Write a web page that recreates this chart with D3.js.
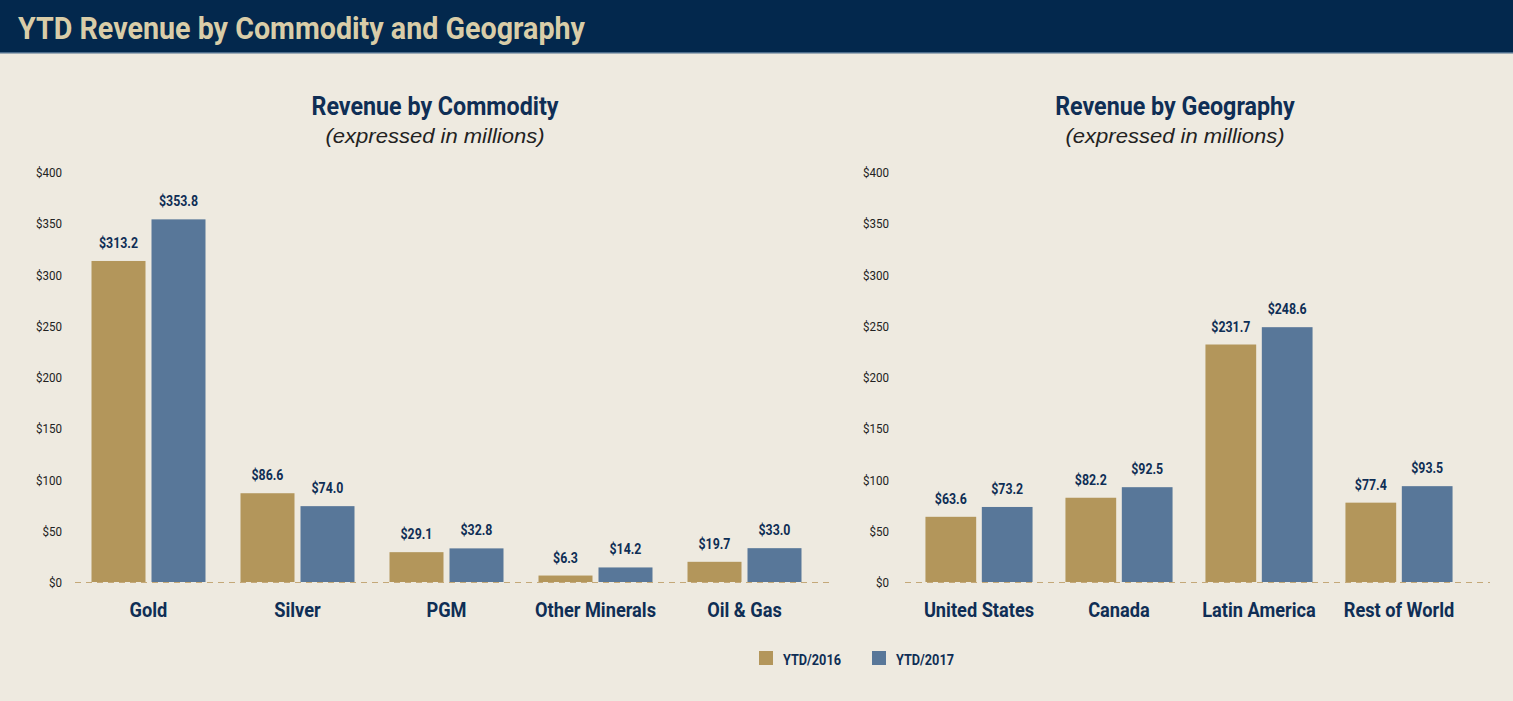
<!DOCTYPE html>
<html><head><meta charset="utf-8">
<script src="https://cdn.jsdelivr.net/npm/d3@7"></script>
<style>
html,body{margin:0;padding:0;background:#eeeae0;}
svg{display:block;}
</style></head>
<body>
<svg id="chart" width="1513" height="701"></svg>
<script>
const seriesNames = ["YTD/2016", "YTD/2017"];
const commodityCategories = ["Gold", "Silver", "PGM", "Other Minerals", "Oil & Gas"];
const commodity2016 = [313.2, 86.6, 29.1, 6.3, 19.7];
const commodity2017 = [353.8, 74.0, 32.8, 14.2, 33.0];
const geographyCategories = ["United States", "Canada", "Latin America", "Rest of World"];
const geography2016 = [63.6, 82.2, 231.7, 77.4];
const geography2017 = [73.2, 92.5, 248.6, 93.5];
const yTicks = [0, 50, 100, 150, 200, 250, 300, 350, 400];

const colors = ["#b3965b", "#587799"];
const navy = "#0f2e55";
const cond = "Roboto,'Liberation Sans',sans-serif";

const svg = d3.select("#chart");
svg.append("rect").attr("width",1513).attr("height",701).attr("fill","#eeeae0");
svg.append("rect").attr("x",0).attr("y",0).attr("width",1513).attr("height",53).attr("fill","#03284d");
svg.append("rect").attr("x",0).attr("y",52).attr("width",1513).attr("height",1.5).attr("fill","#4d6d8c");
svg.append("text").attr("class","hdr").attr("x",18).attr("y",39)
  .attr("font-family",cond).attr("font-weight","bold").attr("font-size",32)
  .attr("fill","#d9cda8").text("YTD Revenue by Commodity and Geography");

function drawPanel(cfg){
  const {cats, s1, s2, xRange, axisRight, lineRange, title, titleX} = cfg;
  const y = d3.scaleLinear().domain([0,400]).range([582,172]);
  const x0 = d3.scaleBand().domain(cats).range(xRange).paddingInner(0.235).paddingOuter(0.1175);
  const x1 = d3.scaleBand().domain(seriesNames).range([0,x0.bandwidth()]).paddingInner(0.1);
  const g = svg.append("g");

  const axis = d3.axisLeft(y).tickValues(yTicks).tickFormat(d=>"$"+d).tickSize(0).tickPadding(0);
  const ag = g.append("g").attr("transform",`translate(${axisRight},0)`).call(axis);
  ag.select(".domain").remove();
  ag.selectAll("text").attr("class","tick-l").attr("font-family",cond).attr("font-size",13)
    .attr("fill","#222").attr("dy","0.35em");

  g.append("line").attr("x1",lineRange[0]).attr("x2",lineRange[1])
    .attr("y1",y(0)+0.5).attr("y2",y(0)+0.5)
    .attr("stroke","#c4a878").attr("stroke-width",1.2).attr("stroke-dasharray","6,5");

  const data = cats.map((c,i)=>({cat:c, vals:[{s:seriesNames[0],v:s1[i]},{s:seriesNames[1],v:s2[i]}]}));
  const grp = g.selectAll(".grp").data(data).join("g").attr("transform",d=>`translate(${x0(d.cat)},0)`);
  grp.selectAll("rect").data(d=>d.vals).join("rect")
    .attr("x",d=>x1(d.s)).attr("width",x1.bandwidth())
    .attr("y",d=>y(d.v)).attr("height",d=>y(0)-y(d.v))
    .attr("fill",(d,i)=>colors[i]);
  grp.selectAll(".val").data(d=>d.vals).join("text").attr("class","val")
    .attr("x",d=>x1(d.s)+x1.bandwidth()/2).attr("y",d=>y(d.v)-13)
    .attr("text-anchor","middle").attr("font-family",cond).attr("font-weight","bold")
    .attr("font-size",15).attr("fill",navy).text(d=>"$"+d.v.toFixed(1));

  g.selectAll(".cat").data(cats).join("text").attr("class","cat")
    .attr("x",d=>x0(d)+x0.bandwidth()/2).attr("y",617)
    .attr("text-anchor","middle").attr("font-family",cond).attr("font-weight","bold")
    .attr("font-size",20).attr("fill",navy).text(d=>d);

  g.append("text").attr("class","ptitle").attr("x",titleX).attr("y",115).attr("text-anchor","middle")
    .attr("font-family",cond).attr("font-weight","bold").attr("font-size",25)
    .attr("fill",navy).text(title);
  g.append("text").attr("class","sub").attr("x",titleX).attr("y",143).attr("text-anchor","middle")
    .attr("font-family","'Liberation Sans',Arial,sans-serif").attr("font-style","italic").attr("font-size",20)
    .attr("fill","#222").text("(expressed in millions)");
}

drawPanel({cats:commodityCategories, s1:commodity2016, s2:commodity2017, xRange:[74,819], axisRight:62,
  lineRange:[75,833], title:"Revenue by Commodity", titleX:435});
drawPanel({cats:geographyCategories, s1:geography2016, s2:geography2017, xRange:[909,1469], axisRight:889,
  lineRange:[905,1490], title:"Revenue by Geography", titleX:1175});

const lg = svg.append("g");
const legendX = [759, 872];
seriesNames.forEach((s,i)=>{
  lg.append("rect").attr("x",legendX[i]).attr("y",651).attr("width",14).attr("height",14).attr("fill",colors[i]);
  lg.append("text").attr("class","leg").attr("x",legendX[i]+24).attr("y",665).attr("font-family",cond).attr("font-weight","bold")
    .attr("font-size",15).attr("fill",navy).text(s);
});

// condense text horizontally to mimic the condensed typeface
function squeeze(cls, refText, targetWidth){
  const nodes = svg.selectAll("."+cls).nodes();
  const ref = nodes.find(n=>n.textContent===refText) || nodes[0];
  const f = targetWidth / ref.getComputedTextLength();
  nodes.forEach(n=>{
    const w = n.getComputedTextLength();
    n.setAttribute("textLength", w*f);
    n.setAttribute("lengthAdjust","spacingAndGlyphs");
  });
}
squeeze("hdr","YTD Revenue by Commodity and Geography",567);
squeeze("ptitle","Revenue by Commodity",247);
squeeze("cat","Other Minerals",121);
squeeze("val","$313.2",39);
squeeze("tick-l","$400",26);
squeeze("leg","YTD/2016",58);
squeeze("sub","(expressed in millions)",219);
</script>
</body></html>
